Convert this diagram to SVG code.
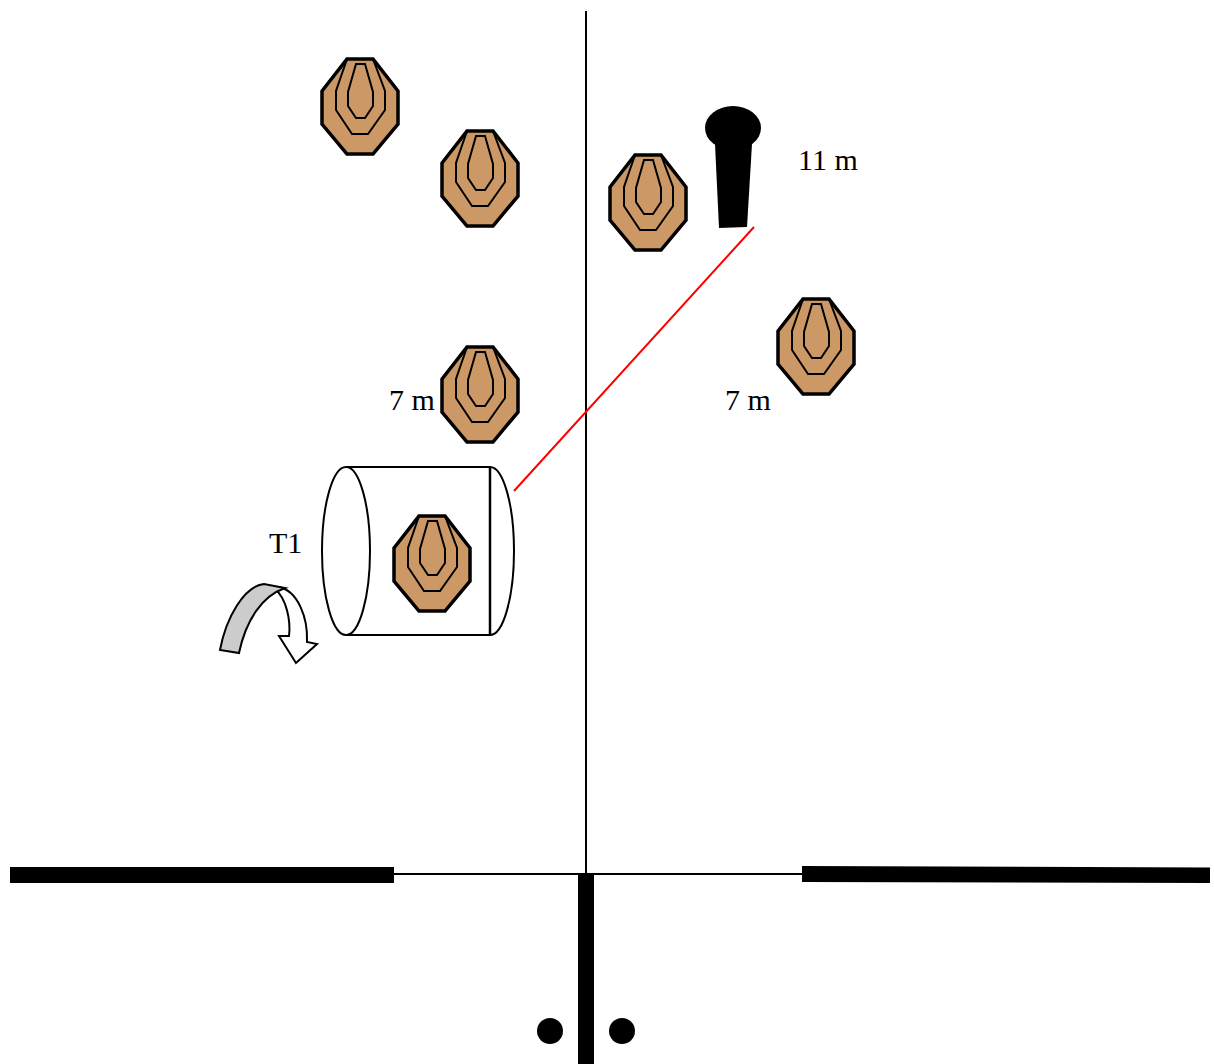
<svg xmlns="http://www.w3.org/2000/svg" width="1214" height="1064" viewBox="0 0 1214 1064">
<style>
text{font-family:"Liberation Serif","Times New Roman",serif;font-size:30px;fill:#000}
.o{fill:#cc9966;stroke:#000;stroke-width:3.5;stroke-linejoin:miter}
.i{fill:none;stroke:#000;stroke-width:2}
.l{fill:none;stroke:#000;stroke-width:2}
.b{fill:#000;stroke:none}
</style>
<defs>
<g id="target">
<path class="o" d="M-13 0H13L38 32V65L13 95H-13L-38 65V32Z"/>
<path class="i" d="M-13 0L-24 32V51L-8 75H8L25 51V32L13 0"/>
<path class="i" d="M-4 5H5L13 33V47L5 59H-4L-12 47V33Z"/>
</g>
</defs>
<rect width="1214" height="1064" fill="#fff"/>
<g id="connectors">
<path class="l" d="M586 11V874"/>
<path class="l" d="M394 874H802"/>
<path d="M514 491L754 227" fill="none" stroke="#f00" stroke-width="2"/>
</g>
<g id="wall-left"><rect class="b" x="10" y="867" width="384" height="16"/></g>
<g id="wall-right"><path class="b" d="M802 866L1210 867.500V883L802 882Z"/></g>
<g id="entrance"><rect class="b" x="578" y="874" width="16" height="190"/></g>
<g id="dot-left"><circle class="b" cx="550" cy="1031" r="13"/></g>
<g id="dot-right"><circle class="b" cx="622" cy="1031" r="13"/></g>
<g id="target-1"><use href="#target" x="360" y="59"/></g>
<g id="target-2"><use href="#target" x="480" y="131"/></g>
<g id="target-3"><use href="#target" x="648" y="155"/></g>
<g id="target-4"><use href="#target" x="816" y="299"/></g>
<g id="target-5"><use href="#target" x="480" y="347"/></g>
<g id="shooter">
<ellipse class="b" cx="733" cy="128" rx="28" ry="22"/>
<path class="b" d="M715 144L719 228L747 227L752 144Z"/>
</g>
<g id="drum">
<path d="M346 467H490A24 84 0 0 1 490 635H346" fill="#fff" stroke="#000" stroke-width="2"/>
<ellipse cx="346" cy="551" rx="24" ry="84" fill="#fff" stroke="#000" stroke-width="2"/>
<path d="M490 467V635" fill="none" stroke="#000" stroke-width="2.500"/>
</g>
<g id="target-t1"><use href="#target" x="432" y="516"/></g>
<g id="rotation-arrow" stroke="#000" stroke-width="2" stroke-linejoin="miter">
<path fill="#fff" d="M275 589C286 598 291 620 289 636L279 636L296 663L317 644L307 642C308 618 298 590 278 587Z"/>
<path fill="#cccccc" d="M220 650C226 618 244 586 264 584L285 588C262 596 246 620 239 653Z"/>
</g>
<g id="labels">
<text x="798" y="170">11 m</text>
<text x="389" y="410">7 m</text>
<text x="725" y="410">7 m</text>
<text x="269" y="553">T1</text>
</g>
</svg>
